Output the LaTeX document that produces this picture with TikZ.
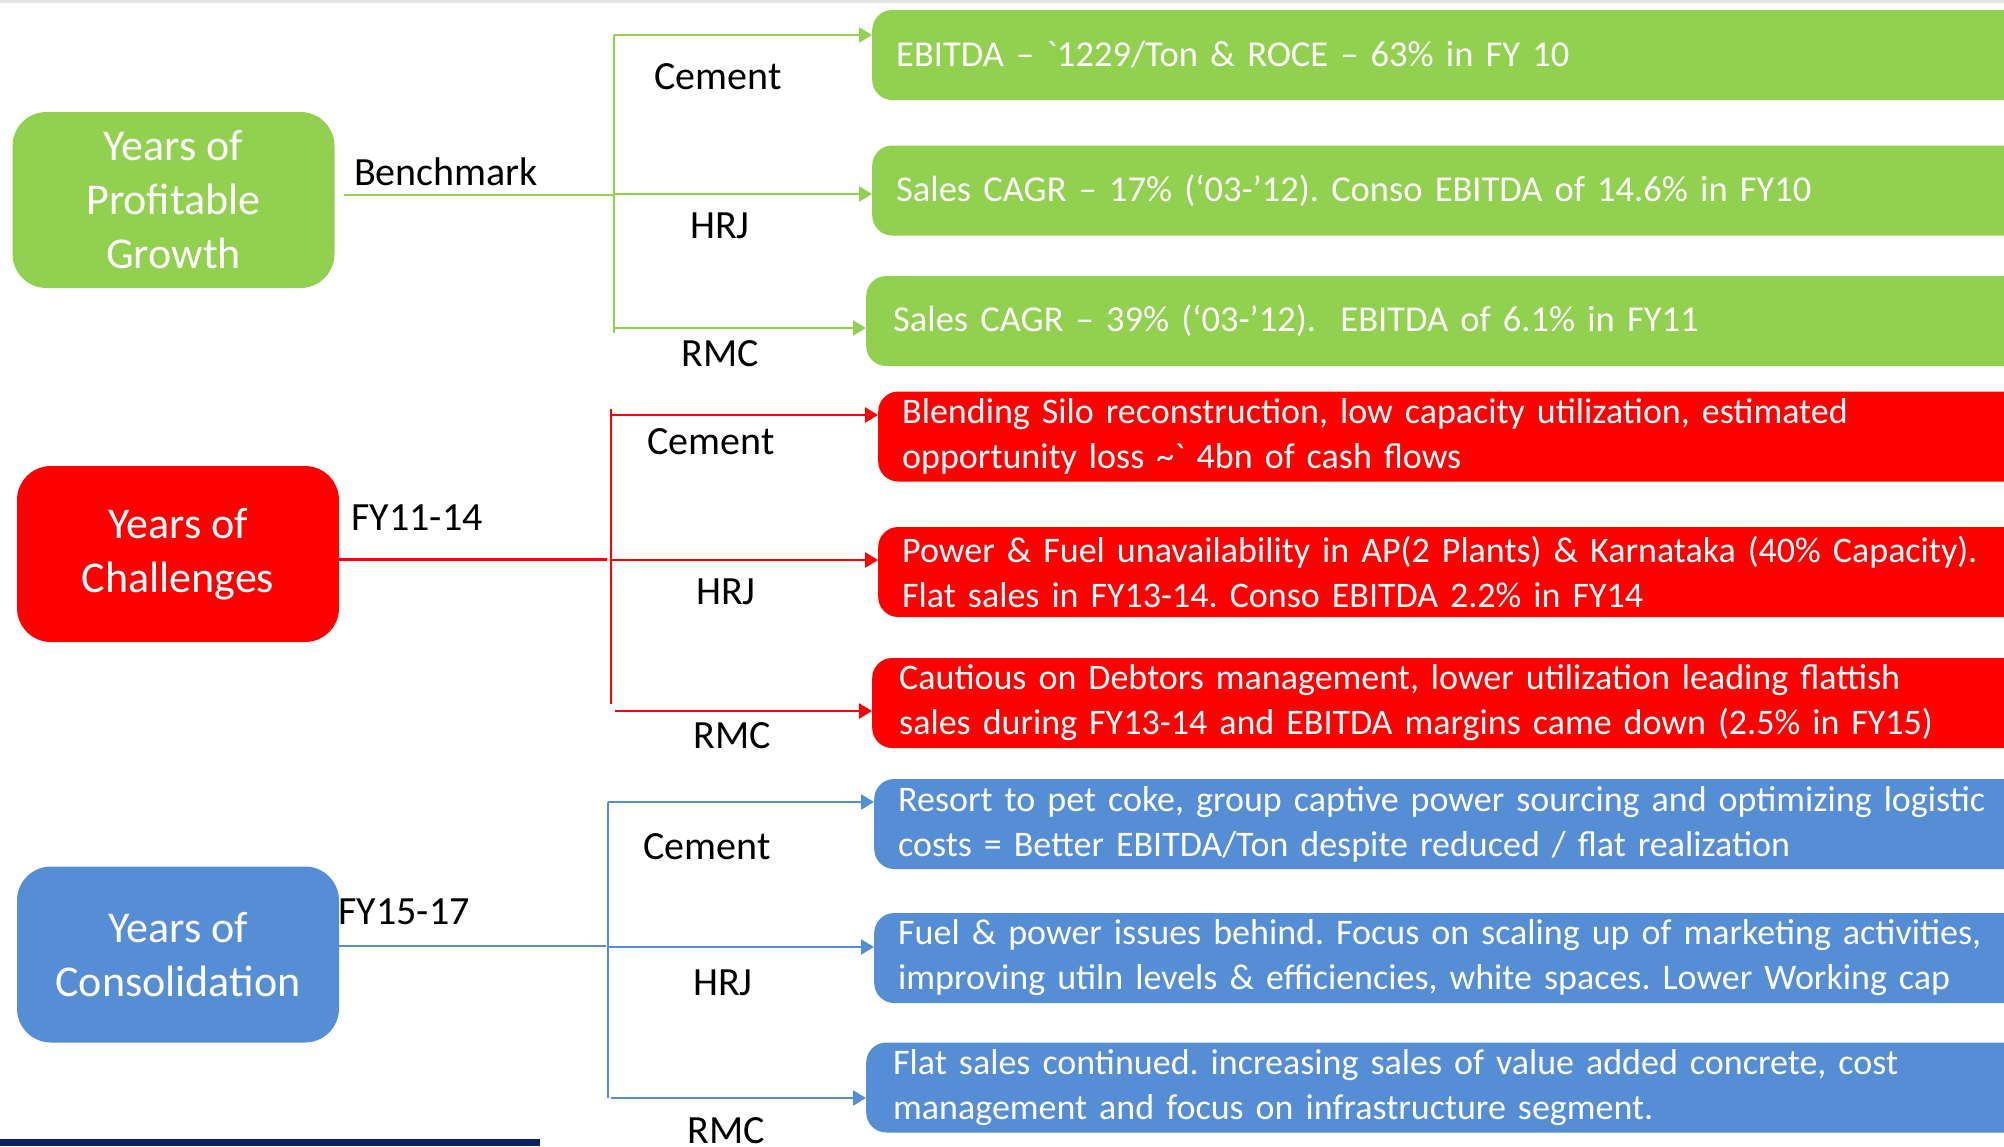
\documentclass[tikz,border=0pt]{standalone}
\usepackage{fontspec}
\setmainfont{Carlito}
\usetikzlibrary{arrows.meta}
\definecolor{pgreen}{HTML}{92D050}
\definecolor{pred}{HTML}{FF0000}
\definecolor{pblue}{HTML}{558ED5}
\definecolor{pnavy}{HTML}{0C1F5E}
\definecolor{pgray}{HTML}{E3E3E3}
\frenchspacing
\begin{document}
\begin{tikzpicture}[x=1pt,y=-1pt,
  phase/.style={rounded corners=34pt, inner sep=0pt, text=white, align=center,
    font=\fontsize{44}{54}\selectfont, minimum width=322pt, minimum height=176pt},
  detail/.style={rounded corners=20pt, anchor=west, inner xsep=24pt, inner ysep=0pt,
    text=white, align=left, text width=1110pt, minimum height=90pt},
  bigtxt/.style={font=\fontsize{36.5}{45}\selectfont},
  smalltxt/.style={font=\fontsize{36}{45}\selectfont},
  tag/.style={font=\fontsize{40}{48}\selectfont, inner sep=0pt},
  link/.style={line width=2.6pt},
  arr/.style={link, -{Triangle[length=13pt,width=15pt]}},
]
\useasboundingbox (0,0) rectangle (2004,1146);
\fill[white] (0,0) rectangle (2004,1146);
\fill[pgray] (0,0) rectangle (2004,3);
\fill[pnavy] (0,1139) rectangle (540,1146);

% phase boxes
\node[phase, fill=pgreen] (gl) at (173.5,200) {Years of\\Profitable\\Growth};
\node[phase, fill=pred]   (rl) at (178,554)   {Years of\\Challenges};
\node[phase, fill=pblue]  (bl) at (178,954.5) {Years of\\Consolidation};

% detail boxes
\node[detail, bigtxt, fill=pgreen] (g1) at (872,55)
  {EBITDA – \textasciigrave1229/Ton \& ROCE – 63\% in FY 10};
\node[detail, bigtxt, fill=pgreen] (g2) at (872,190.5)
  {Sales CAGR – 17\% (‘03-’12). Conso EBITDA of 14.6\% in FY10};
\node[detail, bigtxt, fill=pgreen, inner xsep=27pt] (g3) at (866,321)
  {Sales CAGR – 39\% (‘03-’12).\ \ EBITDA of 6.1\% in FY11};

\node[detail, smalltxt, fill=pred] (r1) at (878,436.5)
  {Blending Silo reconstruction, low capacity utilization, estimated\\
   opportunity loss \textasciitilde\textasciigrave\ 4bn of cash flows};
\node[detail, smalltxt, fill=pred] (r2) at (878,572)
  {Power \& Fuel unavailability in AP(2 Plants) \& Karnataka (40\% Capacity).\\
   Flat sales in FY13-14. Conso EBITDA 2.2\% in FY14};
\node[detail, smalltxt, fill=pred, inner xsep=27pt] (r3) at (872,703)
  {Cautious on Debtors management, lower utilization leading flattish\\
   sales during FY13-14 and EBITDA margins came down (2.5\% in FY15)};

\node[detail, smalltxt, fill=pblue] (b1) at (874,824)
  {Resort to pet coke, group captive power sourcing and optimizing logistic\\
   costs = Better EBITDA/Ton despite reduced / flat realization};
\node[detail, smalltxt, fill=pblue] (b2) at (874,958)
  {Fuel \& power issues behind. Focus on scaling up of marketing activities,\\
   improving utiln levels \& efficiencies, white spaces. Lower Working cap};
\node[detail, smalltxt, fill=pblue, inner xsep=27pt] (b3) at (866,1087.5)
  {Flat sales continued. increasing sales of value added concrete, cost\\
   management and focus on infrastructure segment.};

% period labels
\node[tag] (gp) at (446,172) {Benchmark};
\node[tag] (rp) at (417,518) {FY11-14};
\node[tag] (bp) at (404,912) {FY15-17};

% segment labels
\node[tag] (gsc) at (718,77)   {Cement};
\node[tag] (gsh) at (720,226)  {HRJ};
\node[tag] (gsr) at (720,354)  {RMC};
\node[tag] (rsc) at (711,442)  {Cement};
\node[tag] (rsh) at (726,592)  {HRJ};
\node[tag] (rsr) at (732,736)  {RMC};
\node[tag] (bsc) at (707,847)  {Cement};
\node[tag] (bsh) at (723,983)  {HRJ};
\node[tag] (bsr) at (726,1131) {RMC};

% green tree
\coordinate (gj) at (614,195);
\coordinate (gc) at (614,35);
\coordinate (gh) at (614,194);
\coordinate (gr) at (614,328);
\coordinate (ge) at (614,333);
\draw[link, pgreen] ([xshift=9pt]gl.east |- gj) -- (gj);
\draw[link, pgreen] (gc) -- (ge);
\draw[arr, pgreen] (gc) -- (gc -| g1.west);
\draw[arr, pgreen] (gh) -- (gh -| g2.west);
\draw[arr, pgreen] (gr) -- (gr -| g3.west);

% red tree
\coordinate (rj) at (607,559.5);
\coordinate (rt) at (611,409);
\coordinate (re) at (611,704);
\coordinate (rc) at (611,415);
\coordinate (rh) at (611,560);
\coordinate (rr) at (615,711);
\draw[link, pred] (rl.east |- rj) -- (rj);
\draw[link, pred] (rt) -- (re);
\draw[arr, pred] (rc) -- (rc -| r1.west);
\draw[arr, pred] (rh) -- (rh -| r2.west);
\draw[arr, pred] (rr) -- (rr -| r3.west);

% blue tree
\coordinate (bj) at (606,946);
\coordinate (bc) at (608,802);
\coordinate (be) at (608,1098);
\coordinate (bh) at (608,947);
\coordinate (br) at (611,1098);
\draw[link, pblue] (bl.east |- bj) -- (bj);
\draw[link, pblue] (bc) -- (be);
\draw[arr, pblue] (bc) -- (bc -| b1.west);
\draw[arr, pblue] (bh) -- (bh -| b2.west);
\draw[arr, pblue] (br) -- (br -| b3.west);
\end{tikzpicture}
\end{document}
